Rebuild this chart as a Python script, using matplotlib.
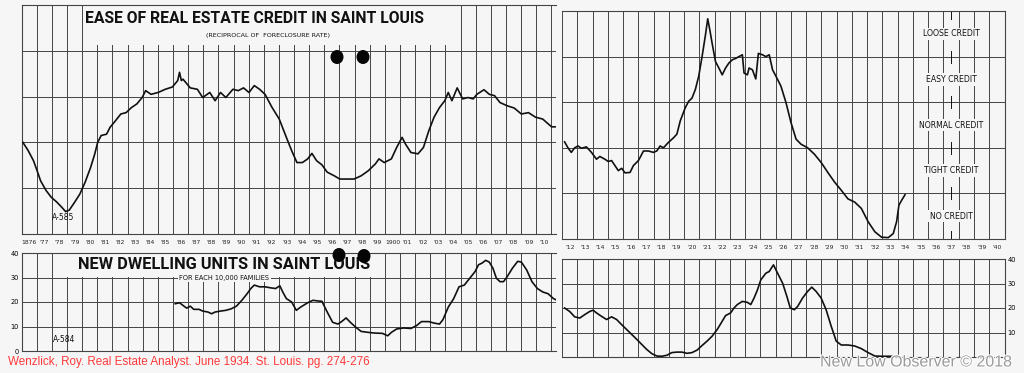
"""
Ease of real estate credit and new dwelling units in Saint Louis, 1876-1934
(Wenzlick, Real Estate Analyst, June 1934), redrawn as a four-panel chart.
"""

import matplotlib
matplotlib.use('Agg')
import matplotlib.pyplot as plt
import matplotlib.patheffects as pe
from matplotlib.patches import Rectangle, Ellipse

W, H = 1024, 373
BG = '#f6f6f6'
GRID = '#444444'
INK = '#111111'

# Ease of credit, in bands: 0-1 no credit, 1-2 tight, 2-3 normal, 3-4 easy, 4-5 loose
credit_years_a = [1876.08, 1876.43, 1876.78, 1877.02, 1877.25, 1877.61, 1877.96, 1878.31, 1878.66, 1878.9,
                  1879.14, 1879.49, 1879.84, 1880.19, 1880.55, 1880.83, 1881.02, 1881.25, 1881.61, 1881.84,
                  1882.19, 1882.55, 1882.9, 1883.25, 1883.61, 1883.96, 1884.19, 1884.55, 1885.02, 1885.49,
                  1885.96, 1886.31, 1886.43, 1886.55, 1886.66, 1887.14, 1887.61, 1887.96, 1888.43, 1888.78,
                  1889.14, 1889.49, 1889.96, 1890.31, 1890.66, 1891.02, 1891.37, 1891.72, 1892.08, 1892.55,
                  1893.02, 1893.49, 1893.84, 1894.19, 1894.55, 1894.9, 1895.18, 1895.49, 1895.84, 1896.19,
                  1896.66, 1897.02, 1897.49, 1897.96, 1898.43, 1898.9, 1899.37, 1899.61, 1899.96, 1900.43,
                  1900.78, 1901.14, 1901.37, 1901.72, 1902.19, 1902.55, 1902.9, 1903.25, 1903.61, 1903.96,
                  1904.19, 1904.43, 1904.78, 1905.14, 1905.49, 1905.84, 1906.08, 1906.55, 1906.9, 1907.25,
                  1907.61, 1908.08, 1908.55, 1909.02, 1909.49, 1909.96, 1910.43, 1911.02, 1911.25]
credit_vals_a = [2.0, 1.82, 1.6, 1.38, 1.16, 0.95, 0.8, 0.7, 0.58, 0.49,
                 0.52, 0.69, 0.87, 1.13, 1.45, 1.75, 2.0, 2.15, 2.18, 2.33,
                 2.47, 2.62, 2.65, 2.76, 2.84, 2.98, 3.13, 3.05, 3.09, 3.16,
                 3.21, 3.35, 3.53, 3.35, 3.38, 3.19, 3.16, 2.98, 3.09, 2.91,
                 3.09, 2.98, 3.16, 3.13, 3.19, 3.09, 3.24, 3.16, 3.05, 2.76,
                 2.51, 2.11, 1.82, 1.56, 1.56, 1.64, 1.76, 1.6, 1.51, 1.35,
                 1.27, 1.2, 1.2, 1.2, 1.27, 1.38, 1.53, 1.64, 1.56, 1.64,
                 1.89, 2.11, 1.96, 1.78, 1.75, 1.89, 2.25, 2.55, 2.76, 2.91,
                 3.09, 2.91, 3.19, 2.95, 2.98, 2.95, 3.05, 3.15, 3.05, 3.02,
                 2.87, 2.8, 2.75, 2.62, 2.65, 2.55, 2.51, 2.34, 2.34]

credit_years_b = [1912.17, 1912.39, 1912.61, 1912.83, 1913.05, 1913.27, 1913.6, 1913.93, 1914.26, 1914.48,
                  1914.81, 1915.03, 1915.25, 1915.47, 1915.69, 1915.91, 1916.13, 1916.46, 1916.68, 1917.01,
                  1917.34, 1917.66, 1917.99, 1918.21, 1918.43, 1918.65, 1918.98, 1919.31, 1919.53, 1919.75,
                  1920.08, 1920.3, 1920.52, 1920.74, 1920.96, 1921.18, 1921.4, 1921.55, 1921.69, 1921.84,
                  1922.06, 1922.28, 1922.5, 1922.72, 1922.94, 1923.16, 1923.38, 1923.6, 1923.82, 1923.93,
                  1924.15, 1924.26, 1924.48, 1924.7, 1924.87, 1925.14, 1925.36, 1925.58, 1925.8, 1926.02,
                  1926.35, 1926.68, 1927.01, 1927.34, 1927.66, 1928.1, 1928.54, 1928.98, 1929.42, 1929.86,
                  1930.3, 1930.74, 1931.18, 1931.62, 1932.06, 1932.5, 1932.94, 1933.38, 1933.71, 1933.93,
                  1934.08, 1934.26, 1934.48]
credit_vals_b = [2.13, 2.0, 1.9, 2.0, 2.04, 1.99, 2.02, 1.9, 1.75, 1.81,
                 1.75, 1.7, 1.72, 1.61, 1.5, 1.55, 1.45, 1.46, 1.61, 1.72,
                 1.93, 1.93, 1.9, 1.93, 2.04, 2.0, 2.12, 2.22, 2.3, 2.59,
                 2.88, 3.02, 3.09, 3.28, 3.57, 4.0, 4.47, 4.83, 4.58, 4.29,
                 3.89, 3.75, 3.6, 3.75, 3.86, 3.93, 3.96, 4.0, 4.04, 3.64,
                 3.6, 3.75, 3.71, 3.51, 4.07, 4.04, 4.0, 4.04, 3.71, 3.57,
                 3.35, 2.99, 2.55, 2.19, 2.08, 2.0, 1.86, 1.68, 1.46, 1.25,
                 1.07, 0.88, 0.81, 0.67, 0.38, 0.16, 0.04, 0.03, 0.12, 0.38,
                 0.74, 0.85, 0.97]

# New dwelling units for each 10,000 families
dwell_years_a = [1886.15, 1886.43, 1886.66, 1886.9, 1887.14, 1887.37, 1887.72, 1887.96, 1888.31, 1888.55,
                 1888.78, 1889.14, 1889.49, 1889.84, 1890.19, 1890.55, 1890.9, 1891.14, 1891.37, 1891.72,
                 1892.08, 1892.43, 1892.78, 1893.06, 1893.25, 1893.49, 1893.84, 1894.15, 1894.43, 1894.9,
                 1895.25, 1895.61, 1895.84, 1896.19, 1896.55, 1896.9, 1897.14, 1897.44, 1897.72, 1898.08,
                 1898.43, 1898.9, 1899.37, 1899.84, 1900.19, 1900.43, 1900.78, 1901.25, 1901.72, 1902.08,
                 1902.42, 1902.9, 1903.25, 1903.61, 1903.84, 1904.19, 1904.55, 1904.9, 1905.25, 1905.61,
                 1905.96, 1906.19, 1906.43, 1906.66, 1906.9, 1907.14, 1907.37, 1907.61, 1907.84, 1908.08,
                 1908.43, 1908.78, 1909.02, 1909.37, 1909.72, 1910.08, 1910.43, 1910.78, 1911.14, 1911.37]
dwell_vals_a = [19.3, 19.7, 18.6, 17.5, 18.3, 17.0, 17.0, 16.3, 15.9, 15.2,
                15.9, 16.3, 16.6, 17.2, 18.3, 20.7, 23.4, 25.5, 26.9, 26.2,
                26.2, 25.8, 25.5, 26.6, 24.1, 21.4, 20.0, 16.6, 17.9, 19.7,
                20.7, 20.4, 20.3, 15.9, 11.7, 11.0, 12.0, 13.5, 11.7, 9.7,
                8.0, 7.6, 7.3, 7.2, 6.2, 7.6, 9.0, 9.4, 9.2, 10.3,
                12.0, 12.0, 11.4, 11.0, 12.8, 17.9, 21.4, 26.2, 26.9, 29.7,
                32.4, 35.2, 35.9, 37.0, 36.3, 33.8, 29.7, 28.3, 28.3, 30.3,
                33.8, 36.6, 36.3, 33.1, 28.3, 25.5, 24.1, 23.4, 21.4, 20.7]

dwell_years_b = [1912.17, 1912.5, 1912.83, 1913.16, 1913.49, 1913.82, 1914.04, 1914.26, 1914.59, 1914.92,
                 1915.25, 1915.58, 1915.91, 1916.24, 1916.57, 1916.9, 1917.23, 1917.55, 1917.88, 1918.21,
                 1918.54, 1918.87, 1919.2, 1919.53, 1919.86, 1920.19, 1920.52, 1920.85, 1921.18, 1921.51,
                 1921.84, 1922.17, 1922.5, 1922.72, 1923.05, 1923.27, 1923.49, 1923.82, 1924.15, 1924.37,
                 1924.59, 1924.81, 1925.03, 1925.36, 1925.58, 1925.86, 1926.13, 1926.46, 1926.74, 1926.96,
                 1927.23, 1927.45, 1927.77, 1928.1, 1928.37, 1928.65, 1928.98, 1929.31, 1929.64, 1929.97,
                 1930.3, 1930.74, 1931.18, 1931.62, 1932.06, 1932.5, 1932.94, 1933.49, 1934.04]
dwell_vals_b = [20.0, 18.6, 16.4, 15.9, 17.3, 18.6, 19.1, 18.0, 16.6, 15.3,
                16.4, 15.3, 13.2, 11.2, 9.2, 7.2, 5.1, 3.1, 1.4, 0.4,
                0.3, 0.7, 1.8, 2.0, 2.0, 1.5, 1.8, 2.8, 4.7, 6.5,
                8.5, 11.2, 14.6, 16.9, 18.0, 20.0, 21.4, 22.7, 22.3, 21.4,
                24.1, 27.4, 31.5, 34.2, 34.9, 37.6, 34.2, 30.1, 24.7, 20.0,
                19.3, 20.7, 24.1, 26.8, 28.5, 26.8, 24.1, 19.3, 12.6, 6.5,
                4.9, 4.9, 4.5, 3.4, 1.8, 0.4, 0.3, 0.3, 0.3]

credit_bands = ['NO CREDIT', 'TIGHT CREDIT', 'NORMAL CREDIT', 'EASY CREDIT', 'LOOSE CREDIT']
dwell_ticks = [0, 10, 20, 30, 40]


def year_label(y):
    return str(y) if y in (1876, 1900) else "'" + str(y)[2:]


def add_panel(fig, x0, x1, ytop, ybot):
    # axes placed by pixel box of the scanned page
    ax = fig.add_axes([x0 / W, 1 - ybot / H, (x1 - x0) / W, (ybot - ytop) / H])
    ax.set_facecolor('none')
    for s in ax.spines.values():
        s.set_color(GRID)
        s.set_linewidth(0.8)
    return ax


def year_grid(ax, first, last, xmax, labels):
    ax.set_xlim(first, xmax)
    ax.set_xticks(range(first, int(xmax) + 1))
    ax.tick_params(which='major', length=0, labelbottom=False, labelleft=False)
    ax.grid(which='major', color=GRID, linewidth=0.7)
    if labels:
        yrs = list(range(first, last + 1))
        ax.set_xticks([y + 0.5 for y in yrs], minor=True)
        ax.set_xticklabels([year_label(y) for y in yrs], minor=True)
        ax.tick_params(which='minor', length=0, labelsize=4.3, pad=4, labelcolor='#222222')


fig = plt.figure(figsize=(W / 100, H / 100), dpi=100, facecolor=BG)

# ---- top left: credit 1876-1911
ax1 = add_panel(fig, 21.7, 556, 5, 234)
year_grid(ax1, 1876, 1910, 1911.31, True)
ax1.set_ylim(0, 5)
ax1.set_yticks([1, 2, 3, 4])
ax1.spines['right'].set_visible(False)
ax1.add_patch(Rectangle((1880.4, 4.13), 24.5, 0.87, facecolor=BG, edgecolor='none', zorder=2))
ax1.plot(credit_years_a, credit_vals_a, color=INK, lw=1.2, zorder=3)
ax1.text(1891.4, 4.7, 'EASE OF REAL ESTATE CREDIT IN SAINT LOUIS', ha='center', va='center',
         fontsize=11.3, family='Roboto', weight='bold', color=INK, zorder=4)
ax1.text(1892.3, 4.33, '(RECIPROCAL OF  FORECLOSURE RATE)', ha='center', va='center',
         fontsize=4.6, color=INK, zorder=4)
ax1.text(1878.75, 0.35, 'A-585', ha='center', va='center', fontsize=5.5, color=INK)

# ---- top right: credit 1912-1940
ax2 = add_panel(fig, 562, 1004.5, 11, 239)
year_grid(ax2, 1912, 1940, 1941, True)
ax2.set_ylim(0, 5)
ax2.set_yticks([1, 2, 3, 4])
ax2.spines['left'].set_visible(False)
ax2.plot(credit_years_b, credit_vals_b, color=INK, lw=1.2, zorder=3)
for i, name in enumerate(credit_bands):
    ax2.text(1937.5, i + 0.5, name, ha='center', va='center', fontsize=5.6, color=INK,
             bbox=dict(facecolor=BG, edgecolor='none', pad=1.2), zorder=4)
for b in [0.05, 1, 2, 3, 4, 4.95]:
    ax2.plot([1937.5, 1937.5], [max(b - 0.13, 0.02), min(b + 0.13, 4.98)], color=INK, lw=0.7, zorder=3)

# ---- bottom left: dwelling units 1876-1911
ax3 = add_panel(fig, 21.7, 556, 253, 351)
year_grid(ax3, 1876, 1910, 1911.31, False)
ax3.set_ylim(0, 40)
ax3.set_yticks(dwell_ticks)
ax3.spines['right'].set_visible(False)
ax3.tick_params(axis='y', which='major', length=0, labelleft=True, labelsize=4.8, pad=2)
ax3.grid(axis='y', color=GRID, linewidth=0.7)
ax3.add_patch(Rectangle((1878.1, 30.4), 21.1, 10.0, facecolor=BG, edgecolor='none', zorder=2))
ax3.plot(dwell_years_a, dwell_vals_a, color=INK, lw=1.2, zorder=3)
ax3.text(1889.4, 35.4, 'NEW DWELLING UNITS IN SAINT LOUIS', ha='center', va='center',
         fontsize=11.8, family='Roboto', weight='bold', color=INK, zorder=4)
ax3.text(1889.4, 29.8, 'FOR EACH 10,000 FAMILIES', ha='center', va='center', fontsize=4.8,
         color=INK, bbox=dict(facecolor=BG, edgecolor='none', pad=0.8), zorder=4)
ax3.text(1878.8, 4.5, 'A-584', ha='center', va='center', fontsize=5.5, color=INK)

# ---- bottom right: dwelling units 1912-1940
ax4 = add_panel(fig, 562, 1004.5, 259, 357)
year_grid(ax4, 1912, 1940, 1941, False)
ax4.set_ylim(0, 40)
ax4.set_yticks(dwell_ticks)
ax4.set_yticklabels(['', '10', '20', '30', '40'])
ax4.spines['left'].set_visible(False)
ax4.tick_params(axis='y', which='major', length=0, labelright=True, labelsize=4.8, pad=2)
ax4.grid(axis='y', color=GRID, linewidth=0.7)
ax4.plot(dwell_years_b, dwell_vals_b, color=INK, lw=1.2, zorder=3)

# binder holes punched through the page
for cx, cy in [(337, 57), (363, 57), (339, 255), (364, 256)]:
    fig.patches.append(Ellipse((cx / W, 1 - cy / H), 13 / W, 14 / H, transform=fig.transFigure,
                               facecolor='#050505', edgecolor='none'))

fig.text(8 / W, 1 - 362 / H, 'Wenzlick, Roy. Real Estate Analyst. June 1934. St. Louis. pg. 274-276',
         ha='left', va='center', fontsize=8.4, family='Liberation Sans', color='#ff3a3a')
fig.text(1012 / W, 1 - 362 / H, 'New Low Observer \u00a9 2018', ha='right', va='center',
         fontsize=11.5, family='Liberation Sans', color='#9a9a9a',
         path_effects=[pe.withStroke(linewidth=1.5, foreground='white')])

fig.savefig('out.png', dpi=100, facecolor=BG)
